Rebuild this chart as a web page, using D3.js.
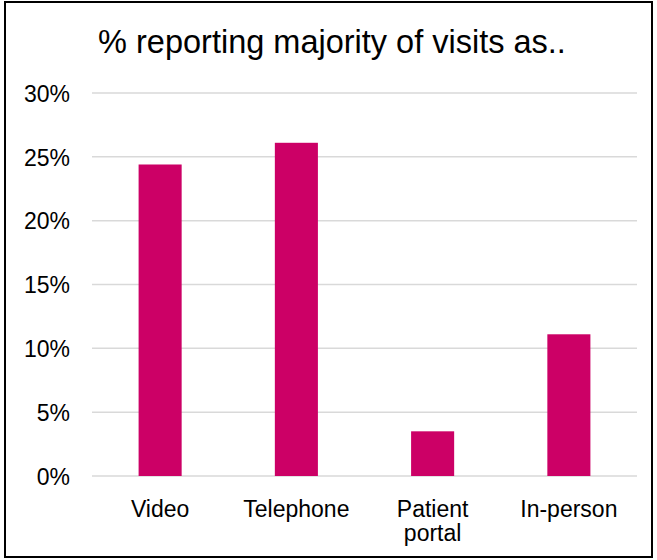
<!DOCTYPE html>
<html>
<head>
<meta charset="utf-8">
<script src="https://cdn.jsdelivr.net/npm/d3@7"></script>
<style>
  body { margin: 0; background: #fff; }
  text { font-family: "Liberation Sans", Arial, sans-serif; fill: #000; }
</style>
</head>
<body>
<div class="chart_area"></div>
<script>
var categories = ["Video", "Telephone", "Patient portal", "In-person"];
var labelLines = [["Video"], ["Telephone"], ["Patient", "portal"], ["In-person"]];
var values = [0.244, 0.261, 0.035, 0.111];
var yTicks = [0, 0.05, 0.10, 0.15, 0.20, 0.25, 0.30];
var title = "% reporting majority of visits as..";

var width = 657, height = 560;
var plot = { left: 92, right: 637, top: 93, bottom: 476 };

var svg = d3.select(".chart_area")
    .append("svg")
    .attr("width", width)
    .attr("height", height);

// outer border
svg.append("rect")
    .attr("x", 5).attr("y", 2)
    .attr("width", 647).attr("height", 555)
    .attr("fill", "none")
    .attr("stroke", "#000")
    .attr("stroke-width", 2);

svg.append("text")
    .attr("x", 332)
    .attr("y", 53)
    .attr("text-anchor", "middle")
    .style("font-size", "32.5px")
    .text(title);

var x = d3.scaleBand()
    .domain(categories)
    .range([plot.left, plot.right])
    .padding(0);

var y = d3.scaleLinear()
    .domain([0, 0.30])
    .range([plot.bottom, plot.top]);

// gridlines
svg.append("g")
    .selectAll("line")
    .data(yTicks)
    .enter()
    .append("line")
    .attr("x1", plot.left)
    .attr("x2", plot.right)
    .attr("y1", function(d){ return y(d); })
    .attr("y2", function(d){ return y(d); })
    .attr("stroke", "#d9d9d9")
    .attr("stroke-width", 1.5);

// y axis labels
var y_axis = svg.append("g")
    .attr("transform", "translate(" + plot.left + ",0)")
    .call(d3.axisLeft(y).tickValues(yTicks).tickFormat(d3.format(".0%")).tickSize(0).tickPadding(22));

y_axis.select(".domain").remove();
y_axis.selectAll("text")
    .style("font-family", "Liberation Sans, Arial, sans-serif")
    .style("font-size", "23px")
    .attr("dy", "0.36em");

// bars
var barW = x.bandwidth() * 0.316;
svg.selectAll("rect.bar")
    .data(values)
    .enter()
    .append("rect")
    .attr("class", "bar")
    .attr("x", function(d, i){ return x(categories[i]) + x.bandwidth() / 2 - barW / 2; })
    .attr("y", function(d){ return y(d); })
    .attr("width", barW)
    .attr("height", function(d){ return y(0) - y(d); })
    .attr("fill", "#cc0066");

// category labels
var cat = svg.append("g")
    .selectAll("text")
    .data(categories)
    .enter()
    .append("text")
    .attr("text-anchor", "middle")
    .attr("x", function(d){ return x(d) + x.bandwidth() / 2; })
    .attr("y", 517)
    .style("font-size", "23px");

cat.each(function(d, i){
    var t = d3.select(this);
    labelLines[i].forEach(function(line, j){
        t.append("tspan")
            .attr("x", x(d) + x.bandwidth() / 2)
            .attr("dy", j == 0 ? 0 : 24)
            .text(line);
    });
});
</script>
</body>
</html>
